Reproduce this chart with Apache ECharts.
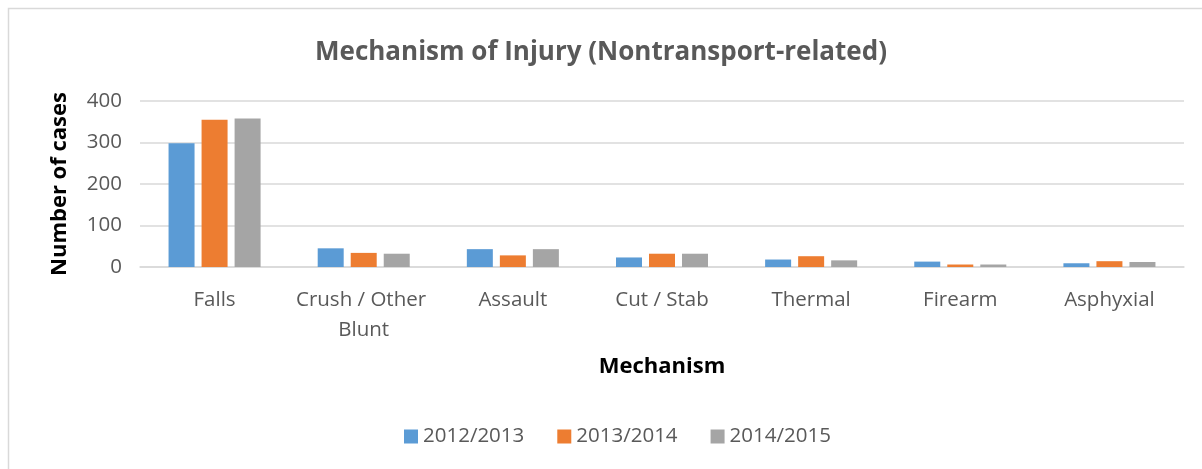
<!DOCTYPE html>
<html>
<head>
<meta charset="utf-8">
<script src="https://cdn.jsdelivr.net/npm/echarts@6/dist/echarts.min.js"></script>
<style>
  html, body { margin: 0; padding: 0; background: #fff; }
  #chart { width: 1202px; height: 469px; }
</style>
</head>
<body>
<div id="chart"></div>
<script>
const categories = ["Falls", "Crush / Other Blunt", "Assault", "Cut / Stab", "Thermal", "Firearm", "Asphyxial"];
const years = ["2012/2013", "2013/2014", "2014/2015"];
const cases2012 = [298, 45, 43, 23, 18, 13, 9];
const cases2013 = [355, 34, 28, 32, 26, 6, 14];
const cases2014 = [358, 32, 43, 32, 16, 6, 12];

const colors = ["#5B9BD5", "#ED7D31", "#A5A5A5"];
const font = "Open Sans";
const chart = echarts.init(document.getElementById("chart"));

const option = {
  color: colors,
  animation: false,
  textStyle: { fontFamily: font },
  title: {
    text: "Mechanism of Injury (Nontransport-related)",
    left: "center",
    top: 35,
    textStyle: { fontSize: 26, fontWeight: "bold", color: "#595959", fontFamily: font }
  },
  legend: {
    data: years,
    bottom: 17,
    left: 399,
    itemWidth: 14,
    itemHeight: 14,
    itemGap: 33,
    icon: "rect",
    textStyle: { fontSize: 20.5, color: "#595959", fontFamily: font }
  },
  grid: { left: 140, right: 18, top: 101, height: 166, containLabel: false },
  xAxis: {
    type: "category",
    data: categories,
    name: "Mechanism",
    nameLocation: "middle",
    nameGap: 89,
    nameTextStyle: { fontSize: 22, fontWeight: "bold", color: "#000", fontFamily: font },
    axisLine: { lineStyle: { color: "#d9d9d9", width: 1.5 } },
    axisTick: { show: false },
    axisLabel: {
      fontSize: 20.5, color: "#595959", margin: 18, interval: 0,
      width: 145, overflow: "break", lineHeight: 30, fontFamily: font
    }
  },
  yAxis: {
    type: "value",
    min: 0,
    max: 400,
    interval: 100,
    name: "Number of cases",
    nameLocation: "middle",
    nameGap: 69,
    nameTextStyle: { fontSize: 22, fontWeight: "bold", color: "#000", fontFamily: font },
    axisLine: { show: false },
    axisTick: { show: false },
    axisLabel: { fontSize: 20.5, color: "#595959", margin: 18, fontFamily: font },
    splitLine: { lineStyle: { color: "#d9d9d9", width: 1.5 } }
  },
  series: [
    { name: years[0], type: "bar", data: cases2012, barWidth: 26, barGap: "27%" },
    { name: years[1], type: "bar", data: cases2013, barWidth: 26, barGap: "27%" },
    { name: years[2], type: "bar", data: cases2014, barWidth: 26, barGap: "27%" }
  ],
  graphic: [{
    type: "rect",
    silent: true,
    shape: { x: 8.5, y: 8.5, width: 1400, height: 800 },
    style: { fill: "none", stroke: "#d9d9d9", lineWidth: 1.5 }
  }]
};
chart.setOption(option);
</script>
</body>
</html>
